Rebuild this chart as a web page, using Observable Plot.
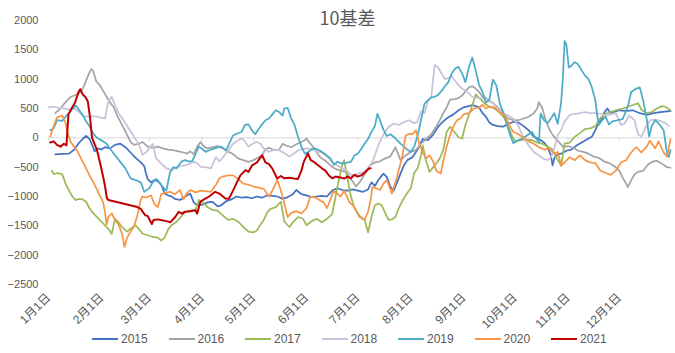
<!DOCTYPE html>
<html><head><meta charset="utf-8">
<script src="https://cdn.jsdelivr.net/npm/d3@7"></script>
<script src="https://cdn.jsdelivr.net/npm/@observablehq/plot@0.6"></script>
<style>
html,body{margin:0;padding:0;background:#fff;}
#wrap{position:relative;width:675px;height:353px;background:#fff;overflow:hidden;font-family:"Liberation Sans","Noto Sans CJK SC",sans-serif;color:#595959;}
#chart{position:absolute;left:0;top:0;}
#title{position:absolute;left:0;top:7px;width:695px;text-align:center;font-size:18px;line-height:20px;font-family:"Noto Sans CJK SC",sans-serif;color:#595959;}
#legend{position:absolute;left:92px;top:331px;display:flex;}
.item{width:76.5px;display:flex;align-items:center;font-size:12px;height:16px;}
.sw{width:26px;height:2px;margin-right:3px;}
</style>
</head><body>
<div id="wrap"><div id="chart"></div><div id="title">10基差</div><div id="legend"></div></div>
<script>
const years = ["2015","2016","2017","2018","2019","2020","2021"];
const colors = ["#4472C4","#A5A5A5","#9BBB59","#CCC1DA","#4BACC6","#F79646","#C00000"];
const yTicks = [-2500,-2000,-1500,-1000,-500,0,500,1000,1500,2000];
const monthLabels = ["1月1日","2月1日","3月1日","4月1日","5月1日","6月1日","7月1日","8月1日","9月1日","10月1日","11月1日","12月1日"];

// [day of year (0 = Jan 1), basis value]
const s2015 = [[4,-280],[8,-275],[12,-270],[15,-200],[18,-80],[20,-20],[22,35],[24,-20],[26,-150],[27,-230],[29,-180],[31,-200],[33,-160],[36,-180],[39,-120],[42,-100],[45,-160],[48,-250],[51,-340],[54,-420],[56,-480],[57,-600],[58,-700],[60,-760],[62,-720],[64,-740],[66,-800],[68,-950],[70,-980],[72,-1000],[74,-1040],[77,-1060],[80,-1000],[83,-950],[85,-1100],[87,-1150],[90,-1140],[93,-1100],[96,-1090],[99,-1170],[101,-1150],[104,-1080],[107,-1050],[110,-1000],[113,-1020],[116,-1010],[119,-1030],[122,-1000],[125,-1020],[128,-980],[131,-990],[134,-1000],[137,-1040],[140,-1010],[143,-960],[145,-890],[148,-960],[151,-980],[154,-1010],[157,-1000],[160,-990],[163,-1000],[166,-900],[169,-860],[172,-890],[175,-900],[178,-880],[181,-900],[184,-920],[187,-880],[189,-760],[191,-820],[193,-720],[196,-610],[198,-670],[200,-830],[202,-900],[204,-760],[206,-610],[208,-470],[210,-380],[213,-330],[216,-200],[219,-20],[222,-40],[225,50],[228,190],[231,280],[234,350],[237,400],[240,470],[243,520],[246,540],[248,560],[250,540],[252,520],[254,420],[256,360],[258,260],[260,220],[263,200],[266,190],[269,240],[272,270],[275,260],[278,200],[281,130],[284,20],[287,-20],[290,-80],[292,-150],[294,-300],[295,-470],[296,-350],[298,-280],[300,-270],[303,-220],[306,-200],[309,-130],[312,-80],[315,-30],[318,20],[320,130],[322,260],[324,330],[325,420],[327,500],[329,420],[331,440],[334,470],[338,460],[342,470],[346,420],[350,390],[354,420],[358,440],[362,450],[364,455]];
const s2016 = [[4,420],[7,500],[10,610],[13,700],[16,730],[19,780],[21,900],[23,1050],[25,1170],[26,1150],[28,960],[30,900],[32,800],[34,700],[36,600],[38,530],[40,390],[43,220],[46,50],[48,-70],[50,-120],[53,-100],[55,-70],[58,-150],[61,-170],[64,-150],[67,-180],[70,-200],[73,-210],[76,-230],[79,-250],[81,-270],[83,-230],[85,-280],[87,-150],[89,-70],[91,-150],[93,-180],[96,-160],[99,-140],[102,-180],[104,-220],[107,-260],[109,-300],[111,-350],[114,-380],[117,-410],[120,-380],[123,-330],[125,-300],[127,-190],[129,-170],[132,-210],[135,-200],[137,-100],[139,-130],[142,-160],[145,-110],[148,-70],[150,-40],[151,-10],[153,-90],[155,-160],[157,-250],[159,-330],[162,-390],[165,-470],[168,-530],[171,-560],[174,-580],[177,-700],[180,-830],[182,-760],[185,-620],[188,-470],[191,-420],[194,-400],[197,-350],[200,-320],[203,-160],[206,-380],[209,-300],[212,-240],[215,-210],[218,-100],[221,-20],[224,60],[227,200],[229,300],[231,420],[233,520],[235,650],[238,660],[240,680],[242,720],[244,790],[246,860],[248,880],[250,840],[252,780],[254,700],[256,680],[258,620],[260,600],[263,520],[266,430],[269,330],[272,300],[275,300],[278,330],[281,360],[284,420],[286,500],[287,610],[289,500],[291,300],[293,150],[295,50],[297,-20],[299,-80],[301,-150],[304,-140],[307,-170],[310,-220],[313,-240],[316,-270],[319,-320],[322,-340],[325,-400],[328,-430],[331,-480],[334,-560],[336,-680],[338,-780],[339,-840],[341,-720],[343,-620],[345,-580],[348,-560],[351,-450],[354,-400],[356,-390],[359,-440],[362,-500],[364,-510]];
const s2017 = [[2,-560],[3,-620],[5,-600],[8,-620],[10,-780],[12,-900],[14,-1000],[16,-1060],[18,-1040],[20,-1050],[22,-1090],[24,-1200],[26,-1280],[29,-1370],[32,-1460],[35,-1550],[37,-1640],[38,-1500],[39,-1380],[41,-1440],[43,-1520],[46,-1600],[48,-1550],[51,-1490],[53,-1560],[55,-1630],[58,-1660],[61,-1690],[64,-1700],[66,-1750],[68,-1700],[70,-1560],[72,-1490],[75,-1430],[78,-1330],[80,-1260],[83,-1240],[86,-1230],[88,-1060],[91,-1120],[93,-1180],[96,-1230],[99,-1240],[102,-1320],[105,-1400],[108,-1380],[111,-1430],[114,-1520],[117,-1600],[120,-1610],[122,-1580],[124,-1480],[126,-1400],[128,-1270],[130,-1210],[133,-1180],[136,-1090],[138,-1430],[141,-1520],[143,-1440],[146,-1350],[149,-1380],[151,-1490],[154,-1420],[157,-1380],[160,-1440],[163,-1380],[166,-1300],[168,-1000],[170,-700],[172,-450],[173,-380],[175,-700],[177,-1000],[179,-1200],[182,-1330],[185,-1400],[187,-1610],[189,-1350],[191,-1150],[193,-1120],[195,-1150],[197,-1280],[199,-1400],[201,-1390],[203,-1350],[205,-1200],[207,-1080],[209,-980],[212,-860],[214,-600],[216,-520],[218,-300],[219,-130],[221,-400],[223,-580],[226,-470],[229,-350],[231,-210],[233,100],[235,190],[237,120],[240,10],[242,-10],[244,220],[246,390],[248,550],[250,740],[252,680],[255,590],[258,530],[261,500],[264,430],[267,330],[269,200],[271,50],[273,-60],[276,-40],[280,-30],[283,-40],[286,-80],[289,-100],[292,-150],[295,-200],[297,-330],[299,-420],[300,-480],[302,-100],[305,-80],[308,20],[311,80],[314,150],[317,160],[320,200],[323,340],[326,410],[329,440],[332,470],[336,500],[339,530],[342,560],[345,590],[347,480],[350,420],[353,440],[356,500],[359,540],[361,530],[364,470]];
const s2018 = [[0,520],[3,530],[6,510],[9,500],[12,480],[15,500],[18,440],[20,380],[22,360],[25,370],[28,360],[31,340],[33,330],[35,620],[37,700],[39,550],[41,420],[44,300],[47,160],[50,20],[53,-120],[55,-290],[57,-250],[59,-180],[61,-100],[63,-350],[66,-440],[69,-520],[72,-550],[75,-500],[78,-480],[81,-460],[85,-410],[87,-430],[89,-495],[92,-500],[95,-520],[98,-330],[100,-400],[103,-300],[106,-180],[108,-100],[111,-40],[113,-10],[115,-60],[117,-150],[120,-90],[122,-70],[124,-100],[126,-180],[129,-240],[132,-200],[135,-210],[138,-260],[141,-320],[144,-260],[147,-200],[151,-180],[154,-190],[157,-230],[160,-250],[163,-320],[166,-410],[169,-470],[172,-520],[175,-570],[178,-650],[181,-610],[184,-590],[187,-520],[190,-380],[193,-130],[195,0],[197,100],[199,190],[202,240],[205,220],[208,270],[211,300],[214,250],[216,280],[218,450],[220,420],[222,620],[224,700],[226,1240],[228,1200],[230,1100],[232,1000],[234,1020],[236,1050],[239,930],[242,840],[245,790],[248,700],[251,680],[254,670],[257,660],[260,590],[263,500],[266,420],[269,380],[272,330],[275,200],[278,0],[281,-130],[284,-240],[287,-300],[290,-360],[292,-380],[294,-330],[296,-180],[298,50],[300,130],[302,280],[305,390],[308,410],[311,420],[314,440],[317,420],[320,420],[323,410],[326,380],[329,400],[332,420],[335,220],[337,240],[340,380],[343,300],[345,60],[347,20],[349,150],[352,300],[355,310],[358,290],[361,250],[363,200]];
const s2019 = [[1,130],[3,160],[5,300],[8,290],[10,360],[12,420],[14,500],[16,550],[18,470],[20,390],[22,280],[24,200],[26,80],[28,10],[30,-30],[32,-60],[34,-100],[36,-180],[39,-300],[42,-410],[45,-520],[48,-690],[51,-720],[54,-760],[56,-920],[57,-900],[59,-860],[61,-760],[63,-700],[65,-760],[67,-840],[69,-900],[71,-600],[73,-500],[75,-520],[78,-400],[80,-380],[82,-400],[84,-400],[86,-280],[88,-150],[90,-190],[92,-240],[95,-200],[98,-170],[101,-150],[104,-210],[106,-80],[108,40],[110,70],[113,100],[115,220],[117,230],[119,130],[121,60],[123,150],[125,230],[127,300],[129,330],[131,400],[133,470],[135,440],[137,380],[138,500],[140,510],[142,330],[144,220],[146,20],[148,-150],[150,-270],[152,-240],[154,-200],[156,-180],[159,-220],[162,-280],[165,-350],[167,-460],[169,-410],[171,-430],[173,-440],[175,-420],[177,-410],[179,-300],[181,-270],[183,-190],[185,-100],[187,-20],[189,100],[191,200],[192.5,410],[194,300],[196,140],[198,30],[200,60],[202,20],[204,-40],[206,-100],[208,-150],[210,-200],[212,-240],[214,-150],[216,40],[218,300],[220,580],[222,640],[224,690],[226,700],[228,730],[230,800],[232,880],[234,950],[236,1100],[238,1180],[240,1210],[242,1100],[244,950],[246,1200],[248,1370],[250,1150],[252,900],[254,780],[256,600],[258,650],[260,990],[262,900],[264,600],[266,440],[268,250],[270,60],[272,-90],[275,-40],[278,0],[280,40],[283,100],[285,0],[287,-70],[288,415],[290,300],[292,250],[294,330],[296,420],[298,240],[300,600],[301,1000],[302,1650],[303,1600],[304.5,1200],[306,1230],[308,1290],[310,1250],[312,1150],[314,1060],[316,1000],[318,860],[320,640],[321,400],[322,220],[324,300],[326,360],[328,230],[330,280],[333,300],[336,320],[339,530],[341,780],[344,840],[346,860],[348,640],[350,330],[351.5,20],[353,200],[355,300],[357,250],[360,130],[362,-270],[363,-325],[364,-210]];
const s2020 = [[1,20],[3,200],[5,350],[8,380],[10,250],[11,100],[13,-70],[15,-150],[17,-230],[19,-350],[21,-460],[24,-640],[27,-800],[30,-980],[32,-1100],[33,-1260],[34,-1480],[35,-1350],[37,-1290],[39,-1400],[41,-1480],[43,-1630],[44.5,-1860],[46,-1700],[48,-1600],[50,-1520],[52,-1320],[54,-1050],[55,-1000],[57,-1020],[60,-980],[62,-1130],[64,-1180],[66,-960],[68,-940],[71,-920],[74,-960],[77,-890],[79,-1050],[81,-940],[83,-890],[86,-930],[89,-900],[92,-910],[95,-920],[98,-800],[100,-690],[102,-660],[105,-640],[108,-640],[111,-700],[114,-780],[117,-800],[120,-830],[123,-850],[126,-870],[129,-1000],[131,-900],[134,-720],[136,-900],[138,-1120],[140,-1350],[142,-1280],[145,-1250],[148,-1290],[151,-1200],[153,-1010],[155,-1000],[158,-1050],[161,-1100],[163,-1200],[165,-1050],[167,-900],[169,-950],[171,-1000],[173,-900],[176,-1090],[179,-1180],[182,-1350],[185,-1400],[187,-1260],[188.5,-1060],[189.5,-840],[192,-860],[194,-890],[196,-780],[198,-720],[201,-950],[204,-660],[207,-320],[209,40],[211,70],[213,60],[215,130],[217,-100],[219,-250],[221,-350],[223,-300],[225,-400],[227,-560],[229.5,-610],[231,-400],[233,-150],[235,50],[237,200],[239,300],[241,330],[243,400],[246,420],[249,500],[252,520],[254,560],[256,500],[258,530],[261,520],[264,440],[267,380],[270,200],[272,100],[275,60],[278,0],[281,-60],[284,-100],[287,-160],[290,-200],[293,-180],[296,-270],[298,-240],[300,-470],[302,-420],[305,-330],[308,-380],[311,-300],[314,-380],[317,-420],[320,-430],[323,-560],[326,-600],[329,-630],[332,-560],[335,-420],[338,-380],[341,-250],[344,-160],[347,-250],[350,-150],[352,-50],[355,-180],[357,-60],[360,-250],[362,-320],[364,-20]];
const s2021 = [[1,-80],[3,-60],[5,-120],[7,-150],[9,-100],[10.5,-130],[11.7,400],[13.5,500],[15.5,600],[17.6,780],[18.6,830],[20,740],[21.5,700],[23,620],[24.4,330],[25.5,0],[28.3,-200],[30.3,-440],[32.2,-690],[33.2,-840],[34.2,-1030],[35.1,-1060],[52,-1180],[54,-1210],[56.6,-1320],[58,-1330],[60.5,-1470],[61.5,-1400],[64,-1390],[66.4,-1405],[69,-1420],[71.3,-1440],[74.2,-1350],[76.2,-1260],[78,-1290],[80,-1260],[83,-1250],[86,-1235],[87,-1290],[88.9,-1090],[91,-1050],[94,-1000],[97.6,-920],[100,-950],[103.5,-1035],[105.5,-1040],[108,-900],[110.4,-750],[112.3,-640],[115.3,-550],[117,-580],[119.2,-470],[122,-420],[125,-296],[127,-420],[129,-450],[131,-524],[133.8,-694],[136,-650],[138,-690],[141,-680],[143.6,-694],[146,-700],[148,-560],[149.4,-410],[151.8,-267],[153.5,-380],[155.3,-410],[157,-450],[160,-520],[162,-560],[164,-638],[166,-690],[168,-660],[170,-670],[173,-694],[175,-660],[177,-690],[179,-630],[181,-660],[183,-640],[185.5,-581],[187.5,-524],[188.5,-520]];

const series = [s2015,s2016,s2017,s2018,s2019,s2020,s2021];
const base = 2021;
const toDate = d => new Date(base, 0, 1 + Math.floor(d), (d % 1) * 24);
const rows = series.map((s, i) => s.map(([d, v]) => ({year: years[i], date: toDate(d), value: v})));
const monthDates = monthLabels.map((_, i) => new Date(base, i, 1));
const fmtY = d => (d < 0 ? "\u2212" + Math.abs(d) : String(d));

const chart = Plot.plot({
  width: 675, height: 353,
  marginLeft: 48, marginRight: 5, marginTop: 20, marginBottom: 69,
  style: {fontFamily: '"Liberation Sans","Noto Sans CJK SC",sans-serif', fontSize: "11px", color: "#595959", background: "transparent", overflow: "visible"},
  x: {type: "time", domain: [new Date(base, 0, 1), new Date(base, 11, 31)], label: null},
  y: {domain: [-2500, 2000], label: null},
  marks: [
    Plot.ruleY([0], {stroke: "#D9D9D9", strokeWidth: 1}),
    Plot.ruleX(monthDates, {y1: 0, y2: -60, stroke: "#D9D9D9"}),
    Plot.axisY(yTicks, {tickSize: 0, tickPadding: 10, fontSize: 11, fill: "#595959", tickFormat: fmtY, label: null}),
    Plot.axisX(monthDates, {tickSize: 0, tickPadding: 11, tickRotate: -45, fontSize: 12, fill: "#595959",
      tickFormat: d => monthLabels[d.getMonth()], label: null}),
    ...rows.map((r, i) => Plot.line(r, {x: "date", y: "value", stroke: colors[i], strokeWidth: i === 6 ? 2 : 1.75, curve: "linear"}))
  ]
});
document.getElementById("chart").appendChild(chart);

const lg = document.getElementById("legend");
years.forEach((y, i) => {
  const it = document.createElement("div"); it.className = "item";
  const sw = document.createElement("div"); sw.className = "sw"; sw.style.background = colors[i];
  const t = document.createElement("span"); t.textContent = y;
  it.appendChild(sw); it.appendChild(t); lg.appendChild(it);
});
</script>
</body></html>
